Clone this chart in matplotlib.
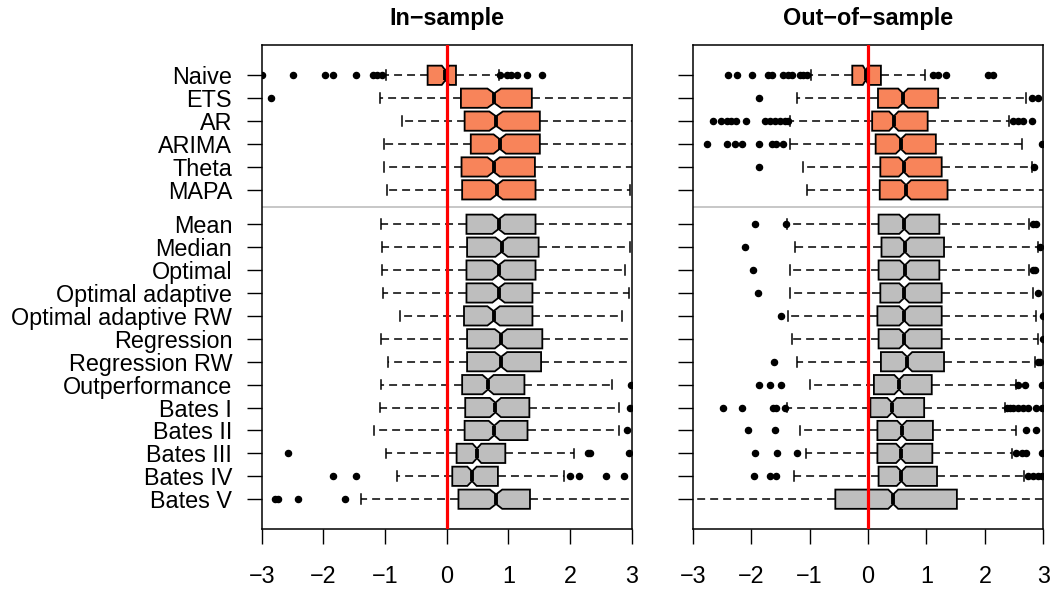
import matplotlib
matplotlib.use("Agg")
import matplotlib.pyplot as plt

plt.rcParams['font.family'] = ['Liberation Sans', 'DejaVu Sans']

methods = ["Naive", "ETS", "AR", "ARIMA", "Theta", "MAPA",
           "Mean", "Median", "Optimal", "Optimal adaptive", "Optimal adaptive RW",
           "Regression", "Regression RW", "Outperformance",
           "Bates I", "Bates II", "Bates III", "Bates IV", "Bates V"]
n_single = 6  # first six are single models (orange), rest are combinations (grey)

# ---- In-sample ----
in_q1 = [-0.31, 0.23, 0.29, 0.39, 0.24, 0.25, 0.32, 0.33, 0.32, 0.32, 0.28,
         0.33, 0.33, 0.25, 0.30, 0.29, 0.16, 0.09, 0.19]
in_med = [-0.02, 0.77, 0.80, 0.86, 0.76, 0.81, 0.84, 0.89, 0.84, 0.84, 0.76,
          0.88, 0.88, 0.67, 0.79, 0.77, 0.49, 0.41, 0.80]
in_q3 = [0.15, 1.38, 1.51, 1.51, 1.43, 1.44, 1.44, 1.49, 1.44, 1.39, 1.39,
         1.55, 1.53, 1.26, 1.34, 1.31, 0.95, 0.83, 1.35]
in_lo = [-0.98, -1.08, -0.72, -1.02, -1.02, -0.97, -1.07, -1.05, -1.05, -1.03, -0.75,
         -1.07, -0.96, -1.07, -1.08, -1.18, -0.98, -0.81, -1.39]
in_hi = [0.84, 3.4, 3.4, 3.1, 3.4, 2.98, 3.1, 2.97, 2.89, 2.96, 2.85,
         3.4, 3.4, 2.68, 2.80, 2.79, 2.07, 1.90, 3.4]
in_notch = [0.06, 0.11, 0.11, 0.10, 0.10, 0.10, 0.10, 0.10, 0.10, 0.10, 0.10,
            0.10, 0.10, 0.09, 0.09, 0.09, 0.07, 0.075, 0.10]
in_fliers = [
    [-3.0, -2.49, -1.97, -1.84, -1.47, -1.19, -1.13, -1.05, 0.86, 0.97, 1.05, 1.14, 1.30, 1.55],
    [-2.85], [], [], [], [],
    [], [], [], [], [], [], [],
    [2.99],
    [2.98],
    [2.92],
    [-2.58, 2.29, 2.33, 2.96],
    [-1.84, -1.47, 2.0, 2.15, 2.58, 2.88],
    [-2.78, -2.73, -2.41, -1.65],
]

# ---- Out-of-sample ----
out_q1 = [-0.27, 0.17, 0.07, 0.13, 0.21, 0.20, 0.18, 0.23, 0.18, 0.21, 0.16,
          0.18, 0.22, 0.10, 0.04, 0.16, 0.16, 0.18, -0.56]
out_med = [-0.04, 0.60, 0.44, 0.56, 0.61, 0.65, 0.62, 0.63, 0.63, 0.62, 0.62,
           0.62, 0.67, 0.53, 0.41, 0.58, 0.56, 0.57, 0.43]
out_q3 = [0.22, 1.20, 1.02, 1.16, 1.26, 1.36, 1.22, 1.30, 1.22, 1.26, 1.26,
          1.26, 1.30, 1.09, 0.96, 1.11, 1.10, 1.18, 1.52]
out_lo = [-0.97, -1.22, -1.34, -1.34, -1.12, -1.05, -1.38, -1.25, -1.34, -1.34, -1.37,
          -1.30, -1.21, -0.99, -1.38, -1.17, -1.06, -1.27, -3.4]
out_hi = [0.97, 2.71, 2.42, 2.64, 2.80, 3.4, 2.75, 2.91, 2.75, 2.83, 2.87,
          2.90, 2.86, 2.54, 2.34, 2.53, 2.47, 2.67, 3.4]
out_notch = [0.05, 0.085, 0.08, 0.085, 0.085, 0.085, 0.085, 0.085, 0.085, 0.085, 0.085,
             0.085, 0.085, 0.08, 0.08, 0.08, 0.08, 0.08, 0.085]
out_fliers = [
    [-2.39, -2.25, -1.99, -1.71, -1.65, -1.45, -1.37, -1.31, -1.17, -1.11, -1.05,
     1.11, 1.20, 1.34, 2.06, 2.14],
    [-1.86, 2.80, 2.91],
    [-2.65, -2.51, -2.42, -2.34, -2.26, -2.09, -1.77, -1.68, -1.59, -1.51, -1.42, -1.37,
     2.48, 2.57, 2.65, 2.80],
    [-2.75, -2.41, -2.28, -2.15, -1.86, -1.65, -1.57, -1.45, 2.97],
    [-1.86, 2.84],
    [],
    [-1.94, -1.40, 2.83, 2.87],
    [-2.10, 2.94],
    [-1.97, 2.83, 2.86],
    [-1.89, 2.90],
    [-1.49, 3.0],
    [3.0],
    [-1.61, 2.91, 2.95],
    [-1.86, -1.68, -1.49, 2.57, 2.68, 2.97],
    [-2.49, -2.15, -1.62, -1.57, -1.42, 2.37, 2.43, 2.48, 2.57, 2.65, 2.74, 2.87, 2.98],
    [-2.05, -1.60, 2.71, 2.88],
    [-1.93, -1.56, -1.22, 2.54, 2.63, 2.71, 2.97],
    [-1.95, -1.68, -1.58, 2.74, 2.83, 2.91, 2.97],
    [],
]

ticks_x = [-3, -2, -1, 0, 1, 2, 3]
orange = "#F8845A"
grey = "#BEBEBE"


def make_stats(q1, med, q3, lo, hi, notch, fliers):
    stats = []
    for i in range(len(med)):
        stats.append(dict(q1=q1[i], med=med[i], q3=q3[i], whislo=lo[i], whishi=hi[i],
                          cilo=med[i] - notch[i], cihi=med[i] + notch[i],
                          fliers=fliers[i]))
    return stats


def draw_panel(ax, stats, title, show_labels):
    # single models at 1..6, gap, then combinations
    pos = list(range(1, n_single + 1)) + [n_single + 1.5 + k for k in range(len(stats) - n_single)]
    bp = ax.bxp(stats, positions=pos, widths=0.84, orientation='horizontal',
                shownotches=True, patch_artist=True,
                boxprops=dict(edgecolor='black', linewidth=1.3),
                medianprops=dict(color='black', linewidth=2.8, solid_capstyle='butt'),
                whiskerprops=dict(color='black', linewidth=1.1, linestyle=(0, (5.2, 3.3))),
                capprops=dict(color='black', linewidth=1.1),
                flierprops=dict(marker='o', markerfacecolor='black', markeredgecolor='black',
                                markersize=4.4, linestyle='none'))
    for i, box in enumerate(bp['boxes']):
        box.set_facecolor(orange if i < n_single else grey)

    ax.axhline(n_single + 0.75, color=grey, linewidth=1.2, zorder=1)
    ax.axvline(0, color='red', linewidth=2.3, zorder=10)

    ax.set_xlim(-3, 3)
    ax.set_ylim(20.8, -0.3)
    ax.set_xticks(ticks_x)
    ax.set_yticks(pos)
    if show_labels:
        ax.set_yticklabels(methods)
    else:
        ax.set_yticklabels([])
    ax.tick_params(axis='both', direction='out', length=10.8, width=1.0, labelsize=16.8)
    ax.tick_params(axis='y', pad=10.5)
    ax.tick_params(axis='x', pad=15)
    for s in ax.spines.values():
        s.set_linewidth(1.1)
    ax.set_title(title, fontsize=16.8, fontweight='bold', pad=15)


if __name__ == '__main__':
    fig = plt.figure(figsize=(10.52, 5.90), dpi=100)
    ax1 = fig.add_axes([0.2488, 0.1034, 0.3517, 0.8195])
    ax2 = fig.add_axes([0.6585, 0.1034, 0.3333, 0.8195])

    draw_panel(ax1, make_stats(in_q1, in_med, in_q3, in_lo, in_hi, in_notch, in_fliers),
               "In\u2212sample", True)
    draw_panel(ax2, make_stats(out_q1, out_med, out_q3, out_lo, out_hi, out_notch, out_fliers),
               "Out\u2212of\u2212sample", False)

    fig.savefig("out.png", dpi=100)
